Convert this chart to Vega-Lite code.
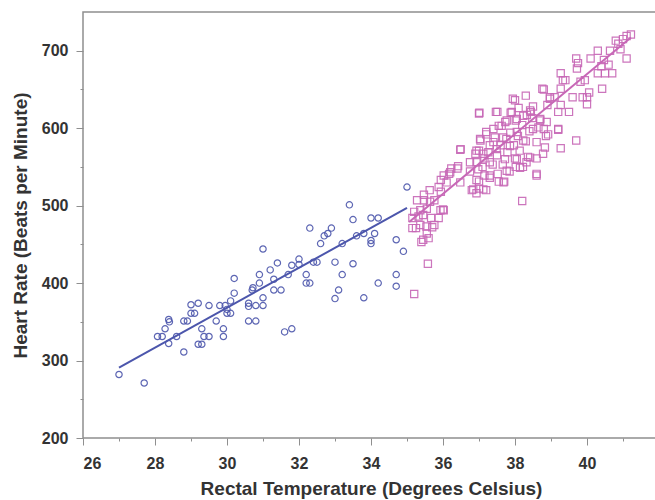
{
  "$schema": "https://vega.github.io/schema/vega-lite/v6.json",
  "width": 576,
  "height": 426,
  "autosize": {"type": "none"},
  "padding": {"left": 83, "top": 12, "right": 0, "bottom": 62},
  "background": "white",
  "config": {
    "view": {"stroke": "#8f8f8f", "strokeWidth": 1.5},
    "axis": {
      "domain": false,
      "grid": false,
      "labelFont": "Liberation Sans",
      "labelFontWeight": "bold",
      "labelFontSize": 16,
      "labelColor": "#333333",
      "titleFont": "Liberation Sans",
      "titleFontWeight": "bold",
      "titleFontSize": 19,
      "titleColor": "#333333",
      "tickColor": "#8f8f8f",
      "tickWidth": 1
    }
  },
  "datasets": {
    "pts": [
      {"t": 27.0, "hr": 282, "g": "cool"},
      {"t": 27.7, "hr": 271, "g": "cool"},
      {"t": 28.07, "hr": 331, "g": "cool"},
      {"t": 28.2, "hr": 331, "g": "cool"},
      {"t": 28.28, "hr": 341, "g": "cool"},
      {"t": 28.38, "hr": 353, "g": "cool"},
      {"t": 28.4, "hr": 350, "g": "cool"},
      {"t": 28.38, "hr": 322, "g": "cool"},
      {"t": 28.6, "hr": 331, "g": "cool"},
      {"t": 28.8, "hr": 311, "g": "cool"},
      {"t": 28.8, "hr": 351, "g": "cool"},
      {"t": 28.9, "hr": 351, "g": "cool"},
      {"t": 29.0, "hr": 372, "g": "cool"},
      {"t": 29.0, "hr": 361, "g": "cool"},
      {"t": 29.1, "hr": 361, "g": "cool"},
      {"t": 29.2, "hr": 374, "g": "cool"},
      {"t": 29.2, "hr": 321, "g": "cool"},
      {"t": 29.3, "hr": 321, "g": "cool"},
      {"t": 29.3, "hr": 341, "g": "cool"},
      {"t": 29.36, "hr": 331, "g": "cool"},
      {"t": 29.5, "hr": 331, "g": "cool"},
      {"t": 29.5, "hr": 371, "g": "cool"},
      {"t": 29.7, "hr": 351, "g": "cool"},
      {"t": 29.8, "hr": 371, "g": "cool"},
      {"t": 29.9, "hr": 341, "g": "cool"},
      {"t": 29.9, "hr": 331, "g": "cool"},
      {"t": 29.95, "hr": 371, "g": "cool"},
      {"t": 30.0, "hr": 366, "g": "cool"},
      {"t": 30.0, "hr": 361, "g": "cool"},
      {"t": 30.1, "hr": 361, "g": "cool"},
      {"t": 30.1, "hr": 377, "g": "cool"},
      {"t": 30.2, "hr": 387, "g": "cool"},
      {"t": 30.2, "hr": 406, "g": "cool"},
      {"t": 30.6, "hr": 374, "g": "cool"},
      {"t": 30.6, "hr": 370, "g": "cool"},
      {"t": 30.6, "hr": 351, "g": "cool"},
      {"t": 30.7, "hr": 391, "g": "cool"},
      {"t": 30.72, "hr": 394, "g": "cool"},
      {"t": 30.8, "hr": 351, "g": "cool"},
      {"t": 30.8, "hr": 371, "g": "cool"},
      {"t": 30.9, "hr": 400, "g": "cool"},
      {"t": 30.9, "hr": 411, "g": "cool"},
      {"t": 31.0, "hr": 381, "g": "cool"},
      {"t": 31.0, "hr": 371, "g": "cool"},
      {"t": 31.0, "hr": 444, "g": "cool"},
      {"t": 31.2, "hr": 417, "g": "cool"},
      {"t": 31.3, "hr": 405, "g": "cool"},
      {"t": 31.3, "hr": 391, "g": "cool"},
      {"t": 31.4, "hr": 426, "g": "cool"},
      {"t": 31.5, "hr": 391, "g": "cool"},
      {"t": 31.6, "hr": 337, "g": "cool"},
      {"t": 31.8, "hr": 341, "g": "cool"},
      {"t": 31.7, "hr": 411, "g": "cool"},
      {"t": 31.8, "hr": 423, "g": "cool"},
      {"t": 32.0, "hr": 431, "g": "cool"},
      {"t": 32.0, "hr": 424, "g": "cool"},
      {"t": 32.2, "hr": 411, "g": "cool"},
      {"t": 32.2, "hr": 400, "g": "cool"},
      {"t": 32.3, "hr": 400, "g": "cool"},
      {"t": 32.3, "hr": 471, "g": "cool"},
      {"t": 32.4, "hr": 427, "g": "cool"},
      {"t": 32.5, "hr": 427, "g": "cool"},
      {"t": 32.6, "hr": 451, "g": "cool"},
      {"t": 32.7, "hr": 461, "g": "cool"},
      {"t": 32.8, "hr": 464, "g": "cool"},
      {"t": 32.9, "hr": 471, "g": "cool"},
      {"t": 33.0, "hr": 427, "g": "cool"},
      {"t": 33.0, "hr": 380, "g": "cool"},
      {"t": 33.1, "hr": 391, "g": "cool"},
      {"t": 33.2, "hr": 411, "g": "cool"},
      {"t": 33.2, "hr": 451, "g": "cool"},
      {"t": 33.4, "hr": 501, "g": "cool"},
      {"t": 33.5, "hr": 425, "g": "cool"},
      {"t": 33.5, "hr": 482, "g": "cool"},
      {"t": 33.6, "hr": 461, "g": "cool"},
      {"t": 33.8, "hr": 381, "g": "cool"},
      {"t": 33.8, "hr": 464, "g": "cool"},
      {"t": 34.0, "hr": 484, "g": "cool"},
      {"t": 34.0, "hr": 451, "g": "cool"},
      {"t": 34.0, "hr": 455, "g": "cool"},
      {"t": 34.1, "hr": 464, "g": "cool"},
      {"t": 34.2, "hr": 484, "g": "cool"},
      {"t": 34.2, "hr": 400, "g": "cool"},
      {"t": 34.7, "hr": 456, "g": "cool"},
      {"t": 34.7, "hr": 411, "g": "cool"},
      {"t": 34.7, "hr": 396, "g": "cool"},
      {"t": 34.9, "hr": 441, "g": "cool"},
      {"t": 35.0, "hr": 524, "g": "cool"},
      {"t": 35.2, "hr": 386, "g": "hot"},
      {"t": 35.58, "hr": 425, "g": "hot"},
      {"t": 35.4, "hr": 453, "g": "hot"},
      {"t": 35.45, "hr": 456, "g": "hot"},
      {"t": 35.6, "hr": 458, "g": "hot"},
      {"t": 35.55, "hr": 464, "g": "hot"},
      {"t": 35.15, "hr": 471, "g": "hot"},
      {"t": 35.25, "hr": 471, "g": "hot"},
      {"t": 35.37, "hr": 475, "g": "hot"},
      {"t": 35.54, "hr": 473, "g": "hot"},
      {"t": 35.7, "hr": 472, "g": "hot"},
      {"t": 35.76, "hr": 475, "g": "hot"},
      {"t": 35.15, "hr": 484, "g": "hot"},
      {"t": 35.32, "hr": 486, "g": "hot"},
      {"t": 35.45, "hr": 488, "g": "hot"},
      {"t": 35.67, "hr": 484, "g": "hot"},
      {"t": 35.88, "hr": 484, "g": "hot"},
      {"t": 35.93, "hr": 494, "g": "hot"},
      {"t": 36.02, "hr": 494, "g": "hot"},
      {"t": 35.2, "hr": 492, "g": "hot"},
      {"t": 35.37, "hr": 494, "g": "hot"},
      {"t": 35.55, "hr": 496, "g": "hot"},
      {"t": 35.28, "hr": 507, "g": "hot"},
      {"t": 35.47, "hr": 507, "g": "hot"},
      {"t": 35.64, "hr": 505, "g": "hot"},
      {"t": 35.47, "hr": 514, "g": "hot"},
      {"t": 35.63, "hr": 520, "g": "hot"},
      {"t": 35.76, "hr": 507, "g": "hot"},
      {"t": 35.88, "hr": 524, "g": "hot"},
      {"t": 35.94, "hr": 533, "g": "hot"},
      {"t": 36.02, "hr": 539, "g": "hot"},
      {"t": 36.17, "hr": 541, "g": "hot"},
      {"t": 36.23, "hr": 548, "g": "hot"},
      {"t": 36.4, "hr": 548, "g": "hot"},
      {"t": 35.94, "hr": 518, "g": "hot"},
      {"t": 36.48, "hr": 572, "g": "hot"},
      {"t": 36.48, "hr": 530, "g": "hot"},
      {"t": 36.75, "hr": 544, "g": "hot"},
      {"t": 36.8, "hr": 520, "g": "hot"},
      {"t": 36.93, "hr": 533, "g": "hot"},
      {"t": 36.93, "hr": 516, "g": "hot"},
      {"t": 37.0, "hr": 522, "g": "hot"},
      {"t": 37.0, "hr": 531, "g": "hot"},
      {"t": 36.9, "hr": 567, "g": "hot"},
      {"t": 36.93, "hr": 556, "g": "hot"},
      {"t": 37.0, "hr": 571, "g": "hot"},
      {"t": 37.0, "hr": 619, "g": "hot"},
      {"t": 37.04, "hr": 584, "g": "hot"},
      {"t": 37.1, "hr": 550, "g": "hot"},
      {"t": 37.15, "hr": 561, "g": "hot"},
      {"t": 37.15, "hr": 539, "g": "hot"},
      {"t": 37.2, "hr": 520, "g": "hot"},
      {"t": 37.2, "hr": 592, "g": "hot"},
      {"t": 37.26, "hr": 569, "g": "hot"},
      {"t": 37.3, "hr": 578, "g": "hot"},
      {"t": 37.3, "hr": 536, "g": "hot"},
      {"t": 37.38, "hr": 553, "g": "hot"},
      {"t": 37.44, "hr": 588, "g": "hot"},
      {"t": 37.47, "hr": 621, "g": "hot"},
      {"t": 37.5, "hr": 565, "g": "hot"},
      {"t": 37.52, "hr": 541, "g": "hot"},
      {"t": 37.55, "hr": 603, "g": "hot"},
      {"t": 37.55, "hr": 531, "g": "hot"},
      {"t": 37.6, "hr": 578, "g": "hot"},
      {"t": 37.66, "hr": 553, "g": "hot"},
      {"t": 37.7, "hr": 531, "g": "hot"},
      {"t": 37.73, "hr": 608, "g": "hot"},
      {"t": 37.76, "hr": 586, "g": "hot"},
      {"t": 37.79, "hr": 569, "g": "hot"},
      {"t": 37.85, "hr": 544, "g": "hot"},
      {"t": 37.87, "hr": 594, "g": "hot"},
      {"t": 37.91, "hr": 621, "g": "hot"},
      {"t": 37.94, "hr": 638, "g": "hot"},
      {"t": 37.97, "hr": 578, "g": "hot"},
      {"t": 38.0, "hr": 561, "g": "hot"},
      {"t": 38.02, "hr": 610, "g": "hot"},
      {"t": 38.02, "hr": 550, "g": "hot"},
      {"t": 38.08, "hr": 590, "g": "hot"},
      {"t": 38.1, "hr": 626, "g": "hot"},
      {"t": 38.13, "hr": 571, "g": "hot"},
      {"t": 38.2, "hr": 506, "g": "hot"},
      {"t": 38.2, "hr": 604, "g": "hot"},
      {"t": 38.22, "hr": 550, "g": "hot"},
      {"t": 38.3, "hr": 642, "g": "hot"},
      {"t": 38.3, "hr": 583, "g": "hot"},
      {"t": 38.33, "hr": 617, "g": "hot"},
      {"t": 38.36, "hr": 563, "g": "hot"},
      {"t": 38.4, "hr": 596, "g": "hot"},
      {"t": 38.44, "hr": 621, "g": "hot"},
      {"t": 38.48, "hr": 613, "g": "hot"},
      {"t": 38.5, "hr": 628, "g": "hot"},
      {"t": 38.6, "hr": 539, "g": "hot"},
      {"t": 38.6, "hr": 561, "g": "hot"},
      {"t": 38.65, "hr": 601, "g": "hot"},
      {"t": 38.7, "hr": 610, "g": "hot"},
      {"t": 38.76, "hr": 651, "g": "hot"},
      {"t": 38.78, "hr": 567, "g": "hot"},
      {"t": 38.8, "hr": 599, "g": "hot"},
      {"t": 38.86, "hr": 590, "g": "hot"},
      {"t": 38.9, "hr": 630, "g": "hot"},
      {"t": 38.97, "hr": 640, "g": "hot"},
      {"t": 39.1, "hr": 640, "g": "hot"},
      {"t": 39.2, "hr": 598, "g": "hot"},
      {"t": 39.27, "hr": 574, "g": "hot"},
      {"t": 39.27, "hr": 630, "g": "hot"},
      {"t": 39.27, "hr": 671, "g": "hot"},
      {"t": 39.33, "hr": 662, "g": "hot"},
      {"t": 39.4, "hr": 662, "g": "hot"},
      {"t": 39.27, "hr": 651, "g": "hot"},
      {"t": 39.5, "hr": 621, "g": "hot"},
      {"t": 39.6, "hr": 640, "g": "hot"},
      {"t": 39.7, "hr": 584, "g": "hot"},
      {"t": 39.7, "hr": 690, "g": "hot"},
      {"t": 39.75, "hr": 684, "g": "hot"},
      {"t": 39.72, "hr": 677, "g": "hot"},
      {"t": 39.82, "hr": 660, "g": "hot"},
      {"t": 39.88, "hr": 640, "g": "hot"},
      {"t": 39.94, "hr": 662, "g": "hot"},
      {"t": 40.0, "hr": 640, "g": "hot"},
      {"t": 40.0, "hr": 631, "g": "hot"},
      {"t": 40.06, "hr": 646, "g": "hot"},
      {"t": 40.1, "hr": 690, "g": "hot"},
      {"t": 40.3, "hr": 700, "g": "hot"},
      {"t": 40.3, "hr": 671, "g": "hot"},
      {"t": 40.4, "hr": 680, "g": "hot"},
      {"t": 40.42, "hr": 651, "g": "hot"},
      {"t": 40.47, "hr": 688, "g": "hot"},
      {"t": 40.5, "hr": 671, "g": "hot"},
      {"t": 40.6, "hr": 682, "g": "hot"},
      {"t": 40.64, "hr": 700, "g": "hot"},
      {"t": 40.7, "hr": 671, "g": "hot"},
      {"t": 40.8, "hr": 713, "g": "hot"},
      {"t": 40.87, "hr": 709, "g": "hot"},
      {"t": 40.93, "hr": 702, "g": "hot"},
      {"t": 41.1, "hr": 690, "g": "hot"},
      {"t": 41.1, "hr": 719, "g": "hot"},
      {"t": 41.22, "hr": 721, "g": "hot"},
      {"t": 41.0, "hr": 715, "g": "hot"},
      {"t": 37.01, "hr": 620, "g": "hot"},
      {"t": 37.51, "hr": 621, "g": "hot"},
      {"t": 37.88, "hr": 620, "g": "hot"},
      {"t": 38.0, "hr": 636, "g": "hot"},
      {"t": 38.8, "hr": 650, "g": "hot"},
      {"t": 38.97, "hr": 638, "g": "hot"},
      {"t": 36.49, "hr": 573, "g": "hot"},
      {"t": 37.03, "hr": 586, "g": "hot"},
      {"t": 37.2, "hr": 595, "g": "hot"},
      {"t": 37.4, "hr": 599, "g": "hot"},
      {"t": 37.63, "hr": 603, "g": "hot"},
      {"t": 37.77, "hr": 610, "g": "hot"},
      {"t": 38.05, "hr": 612, "g": "hot"},
      {"t": 38.23, "hr": 616, "g": "hot"},
      {"t": 38.42, "hr": 623, "g": "hot"},
      {"t": 38.7, "hr": 612, "g": "hot"},
      {"t": 38.88, "hr": 608, "g": "hot"},
      {"t": 39.2, "hr": 599, "g": "hot"},
      {"t": 38.92, "hr": 592, "g": "hot"},
      {"t": 38.5, "hr": 599, "g": "hot"},
      {"t": 38.05, "hr": 595, "g": "hot"},
      {"t": 37.67, "hr": 588, "g": "hot"},
      {"t": 37.4, "hr": 582, "g": "hot"},
      {"t": 36.93, "hr": 571, "g": "hot"},
      {"t": 36.75, "hr": 556, "g": "hot"},
      {"t": 37.12, "hr": 567, "g": "hot"},
      {"t": 37.49, "hr": 573, "g": "hot"},
      {"t": 37.86, "hr": 577, "g": "hot"},
      {"t": 38.23, "hr": 584, "g": "hot"},
      {"t": 38.6, "hr": 582, "g": "hot"},
      {"t": 38.83, "hr": 575, "g": "hot"},
      {"t": 38.42, "hr": 562, "g": "hot"},
      {"t": 38.05, "hr": 560, "g": "hot"},
      {"t": 37.72, "hr": 560, "g": "hot"},
      {"t": 37.3, "hr": 556, "g": "hot"},
      {"t": 36.98, "hr": 547, "g": "hot"},
      {"t": 37.3, "hr": 539, "g": "hot"},
      {"t": 37.77, "hr": 545, "g": "hot"},
      {"t": 38.14, "hr": 549, "g": "hot"},
      {"t": 38.32, "hr": 556, "g": "hot"},
      {"t": 37.68, "hr": 530, "g": "hot"},
      {"t": 37.12, "hr": 521, "g": "hot"},
      {"t": 36.84, "hr": 521, "g": "hot"},
      {"t": 38.6, "hr": 541, "g": "hot"},
      {"t": 36.0, "hr": 495, "g": "hot"},
      {"t": 36.2, "hr": 543, "g": "hot"},
      {"t": 36.42, "hr": 551, "g": "hot"},
      {"t": 36.1, "hr": 530, "g": "hot"},
      {"t": 39.2, "hr": 621, "g": "hot"}
    ],
    "fit": [
      {"t": 27.0, "hr": 291, "g": "cool"},
      {"t": 35.0, "hr": 497, "g": "cool"},
      {"t": 35.06, "hr": 479, "g": "hot"},
      {"t": 41.22, "hr": 717, "g": "hot"}
    ]
  },
  "encoding": {
    "x": {
      "field": "t",
      "type": "quantitative",
      "scale": {"domain": [26, 42], "nice": false, "zero": false},
      "axis": {
        "title": "Rectal Temperature (Degrees Celsius)",
        "values": [26, 27, 28, 29, 30, 31, 32, 33, 34, 35, 36, 37, 38, 39, 40, 41],
        "labelExpr": "datum.value % 2 === 0 ? datum.label : ''",
        "tickSize": {"condition": {"test": "datum.value % 2 === 0", "value": 7}, "value": 3},
        "labelPadding": 10,
        "titlePadding": 8
      }
    },
    "y": {
      "field": "hr",
      "type": "quantitative",
      "scale": {"domain": [200, 750], "nice": false, "zero": false},
      "axis": {
        "title": "Heart Rate (Beats per Minute)",
        "values": [200, 250, 300, 350, 400, 450, 500, 550, 600, 650, 700],
        "labelExpr": "datum.value % 100 === 0 ? datum.label : ''",
        "tickSize": {"condition": {"test": "datum.value % 100 === 0", "value": 7}, "value": 3},
        "labelPadding": 8,
        "titlePadding": 11
      }
    },
    "color": {
      "field": "g",
      "type": "nominal",
      "legend": null,
      "scale": {"domain": ["cool", "hot"], "range": ["#4c56ac", "#c767b6"]}
    }
  },
  "layer": [
    {
      "data": {"name": "pts"},
      "mark": {"type": "point", "filled": false, "strokeWidth": 1.2, "opacity": 0.9},
      "encoding": {
        "shape": {"field": "g", "type": "nominal", "legend": null, "scale": {"domain": ["cool", "hot"], "range": ["circle", "square"]}},
        "size": {"field": "g", "type": "nominal", "legend": null, "scale": {"domain": ["cool", "hot"], "range": [40, 52]}}
      }
    },
    {
      "data": {"name": "fit"},
      "mark": {"type": "line", "strokeWidth": 2},
      "encoding": {
        "detail": {"field": "g", "type": "nominal"},
        "color": {"field": "g", "type": "nominal", "legend": null, "scale": {"domain": ["cool", "hot"], "range": ["#3f4fa8", "#b5459e"]}}
      }
    }
  ]
}
